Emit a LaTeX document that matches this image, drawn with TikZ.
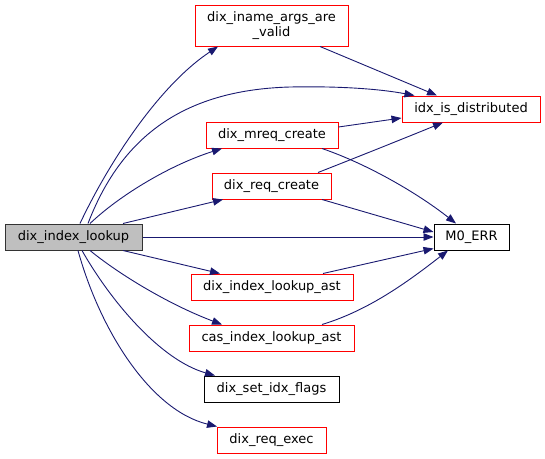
\documentclass[tikz,border=0pt]{standalone}
\usepackage{fontspec}
\setmainfont{DejaVu Sans}
\usetikzlibrary{arrows.meta}
\definecolor{edgeblue}{HTML}{191970}
\definecolor{graybox}{HTML}{BFBFBF}
\tikzset{
  fn/.style={draw=red, line width=1pt, fill=white, inner sep=0pt, minimum height=26pt, align=center, font=\fontsize{13}{15}\selectfont},
  fnblack/.style={fn, draw=black},
  fnroot/.style={fn, draw=black!80, fill=graybox},
  call/.style={draw=edgeblue, line width=0.9pt, -{Triangle[length=10pt,width=7.5pt]}},
}
\begin{document}
\begin{tikzpicture}[x=1pt,y=-1pt]
\useasboundingbox (0,0) rectangle (545,458);
\node[fnroot, minimum width=137pt] (lookup) at (73.5,237) {dix\_index\_lookup};
\node[fn, minimum width=153pt, minimum height=41pt] (iname) at (271.5,25.5) {dix\_iname\_args\_are\\\_valid};
\node[fn, minimum width=138pt] (idx) at (471,109) {idx\_is\_distributed};
\node[fn, minimum width=132pt] (mreq) at (272,135) {dix\_mreq\_create};
\node[fn, minimum width=119pt] (reqc) at (271.5,186) {dix\_req\_create};
\node[fnblack, minimum width=75pt] (m0) at (471.5,237) {M0\_ERR};
\node[fn, minimum width=162pt] (ilast) at (272,287) {dix\_index\_lookup\_ast};
\node[fn, minimum width=165pt] (cas) at (271.5,338) {cas\_index\_lookup\_ast};
\node[fnblack, minimum width=135pt] (flags) at (271.5,389) {dix\_set\_idx\_flags};
\node[fn, minimum width=109pt] (exec) at (271.5,440) {dix\_req\_exec};

% from dix_index_lookup
\draw[call] ([xshift=6.5pt]lookup.north) .. controls (110,160) and (160,85) .. ([xshift=-53.5pt]iname.south);
\draw[call] ([xshift=14.5pt]lookup.north) .. controls (120,140) and (180,90) .. (290,87) .. controls (340,86) and (380,89) .. ([xshift=13pt]idx.north west);
\draw[call] ([xshift=16.5pt]lookup.north) .. controls (120,195) and (170,165) .. ([xshift=-50pt]mreq.south);
\draw[call] ([xshift=49.5pt]lookup.north) -- ([xshift=-48.5pt]reqc.south);
\draw[call] (lookup.east) -- (m0.west);
\draw[call] ([xshift=49.5pt]lookup.south) -- ([xshift=-52pt]ilast.north);
\draw[call] ([xshift=16.5pt]lookup.south) .. controls (120,275) and (170,305) .. ([xshift=-49.5pt]cas.north);
\draw[call] ([xshift=8.5pt]lookup.south) .. controls (110,300) and (160,360) .. ([xshift=-56.5pt]flags.north);
\draw[call] ([xshift=4.5pt]lookup.south) .. controls (100,330) and (150,410) .. ([xshift=-54.5pt]exec.north);

% others
\draw[call] ([xshift=48.5pt]iname.south) -- ([xshift=-34pt]idx.north);
\draw[call] ([yshift=8pt]mreq.east) -- ([yshift=-9pt]idx.west);
\draw[call] ([xshift=50pt]mreq.south) .. controls (370,165) and (420,195) .. ([xshift=-15.5pt]m0.north);
\draw[call] ([xshift=46.5pt]reqc.north) .. controls (350,160) and (400,140) .. ([xshift=-28pt]idx.south);
\draw[call] ([xshift=50.5pt]reqc.south) -- ([yshift=5pt]m0.west);
\draw[call] ([xshift=51pt]ilast.north) -- ([yshift=2pt]m0.south west);
\draw[call] ([xshift=50.5pt]cas.north) .. controls (370,310) and (410,280) .. ([xshift=-23.5pt]m0.south);
\end{tikzpicture}
\end{document}
